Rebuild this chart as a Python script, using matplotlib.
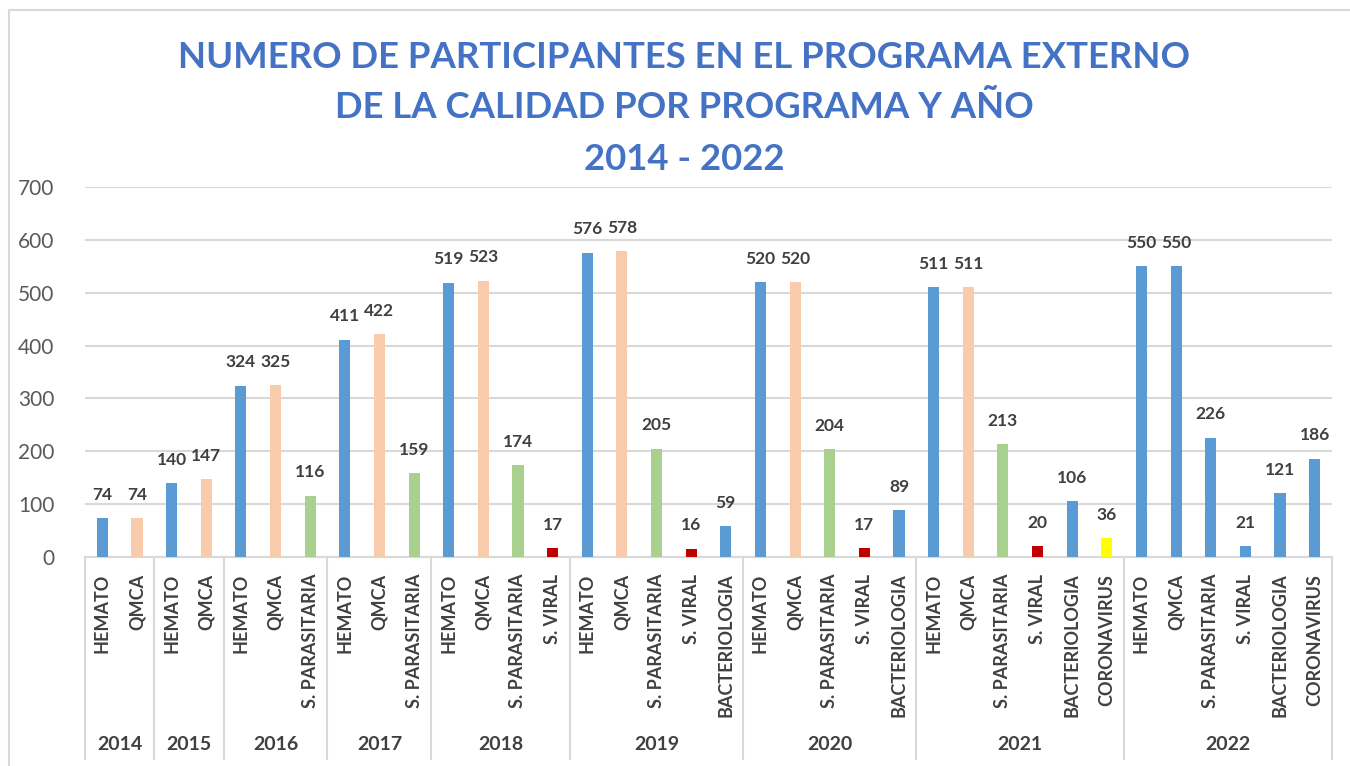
import matplotlib
matplotlib.use('Agg')
import matplotlib.pyplot as plt
from matplotlib.patches import Rectangle
import numpy as np

# data, one list per year
years = ['2014', '2015', '2016', '2017', '2018', '2019', '2020', '2021', '2022']
programs = [
    ['HEMATO', 'QMCA'],
    ['HEMATO', 'QMCA'],
    ['HEMATO', 'QMCA', 'S. PARASITARIA'],
    ['HEMATO', 'QMCA', 'S. PARASITARIA'],
    ['HEMATO', 'QMCA', 'S. PARASITARIA', 'S. VIRAL'],
    ['HEMATO', 'QMCA', 'S. PARASITARIA', 'S. VIRAL', 'BACTERIOLOGIA'],
    ['HEMATO', 'QMCA', 'S. PARASITARIA', 'S. VIRAL', 'BACTERIOLOGIA'],
    ['HEMATO', 'QMCA', 'S. PARASITARIA', 'S. VIRAL', 'BACTERIOLOGIA', 'CORONAVIRUS'],
    ['HEMATO', 'QMCA', 'S. PARASITARIA', 'S. VIRAL', 'BACTERIOLOGIA', 'CORONAVIRUS'],
]
participants = [
    [74, 74],
    [140, 147],
    [324, 325, 116],
    [411, 422, 159],
    [519, 523, 174, 17],
    [576, 578, 205, 16, 59],
    [520, 520, 204, 17, 89],
    [511, 511, 213, 20, 106, 36],
    [550, 550, 226, 21, 121, 186],
]

# colours by program (last year is all blue in the original)
blue = '#5B9BD5'
program_colors = {'HEMATO': blue, 'QMCA': '#F8CBAD', 'S. PARASITARIA': '#A9D18E',
                  'S. VIRAL': '#C00000', 'BACTERIOLOGIA': blue, 'CORONAVIRUS': '#FFFF00'}

plt.rcParams['font.family'] = ['Lato', 'DejaVu Sans']

fig = plt.figure(figsize=(13.5, 7.66), dpi=100)
# light frame around the chart
fig.patches.append(Rectangle((9 / 1350, -0.1), 1.1, 1.1 - 10 / 766, transform=fig.transFigure,
                             fill=False, edgecolor='#D9D9D9', linewidth=1.5))
ax = fig.add_axes([85 / 1350, 1 - 557 / 766, 1247 / 1350, 370 / 766])

labels, values, colors, bounds = [], [], [], [0]
for yi, (progs, vals) in enumerate(zip(programs, participants)):
    for p, v in zip(progs, vals):
        labels.append(p)
        values.append(v)
        colors.append(blue if years[yi] == '2022' else program_colors[p])
    bounds.append(len(labels))

x = np.arange(len(labels))
bars = ax.bar(x, values, width=0.32, color=colors, zorder=3)
for b, v in zip(bars, values):
    ax.annotate(str(v), (b.get_x() + b.get_width() / 2, v), xytext=(0, 11),
                textcoords='offset points', ha='center', va='bottom',
                fontsize=12.5, fontweight='bold', color='#404040')

ax.set_xlim(-0.5, len(labels) - 0.5)
ax.set_ylim(0, 700)
ax.set_yticks(range(0, 701, 100))
ax.yaxis.grid(True, color='#D9D9D9', linewidth=1.5, zorder=0)
ax.tick_params(axis='y', length=0, labelsize=15, labelcolor='#595959', pad=22)
ax.set_xticks(x)
ax.set_xticklabels(labels, rotation=90, fontsize=13, fontweight='bold', color='#404040')
ax.tick_params(axis='x', length=0, pad=12)
for s in ax.spines.values():
    s.set_visible(False)

# category table under the axis
trans = ax.get_xaxis_transform()
ax.plot([-0.5, len(labels) - 0.5], [0, 0], color='#D9D9D9', linewidth=1.5, transform=trans, clip_on=False)
for bd in bounds:
    ax.plot([bd - 0.5, bd - 0.5], [0, -0.545], color='#D9D9D9', linewidth=1.5,
            transform=trans, clip_on=False)
for yi, yr in enumerate(years):
    mid = (bounds[yi] + bounds[yi + 1] - 1) / 2
    ax.text(mid, -0.508, yr, transform=trans, ha='center', va='center',
            fontsize=14, fontweight='bold', color='#404040')

title_lines = ['NUMERO DE PARTICIPANTES EN EL PROGRAMA EXTERNO',
               'DE LA CALIDAD POR PROGRAMA Y AÑO', '2014 - 2022']
for line, ypix in zip(title_lines, [57, 108, 160]):
    fig.text(684 / 1350, 1 - ypix / 766, line, ha='center', va='center',
             fontsize=26.3, fontweight='bold', color='#4472C4')

fig.savefig('out.png', dpi=100)
